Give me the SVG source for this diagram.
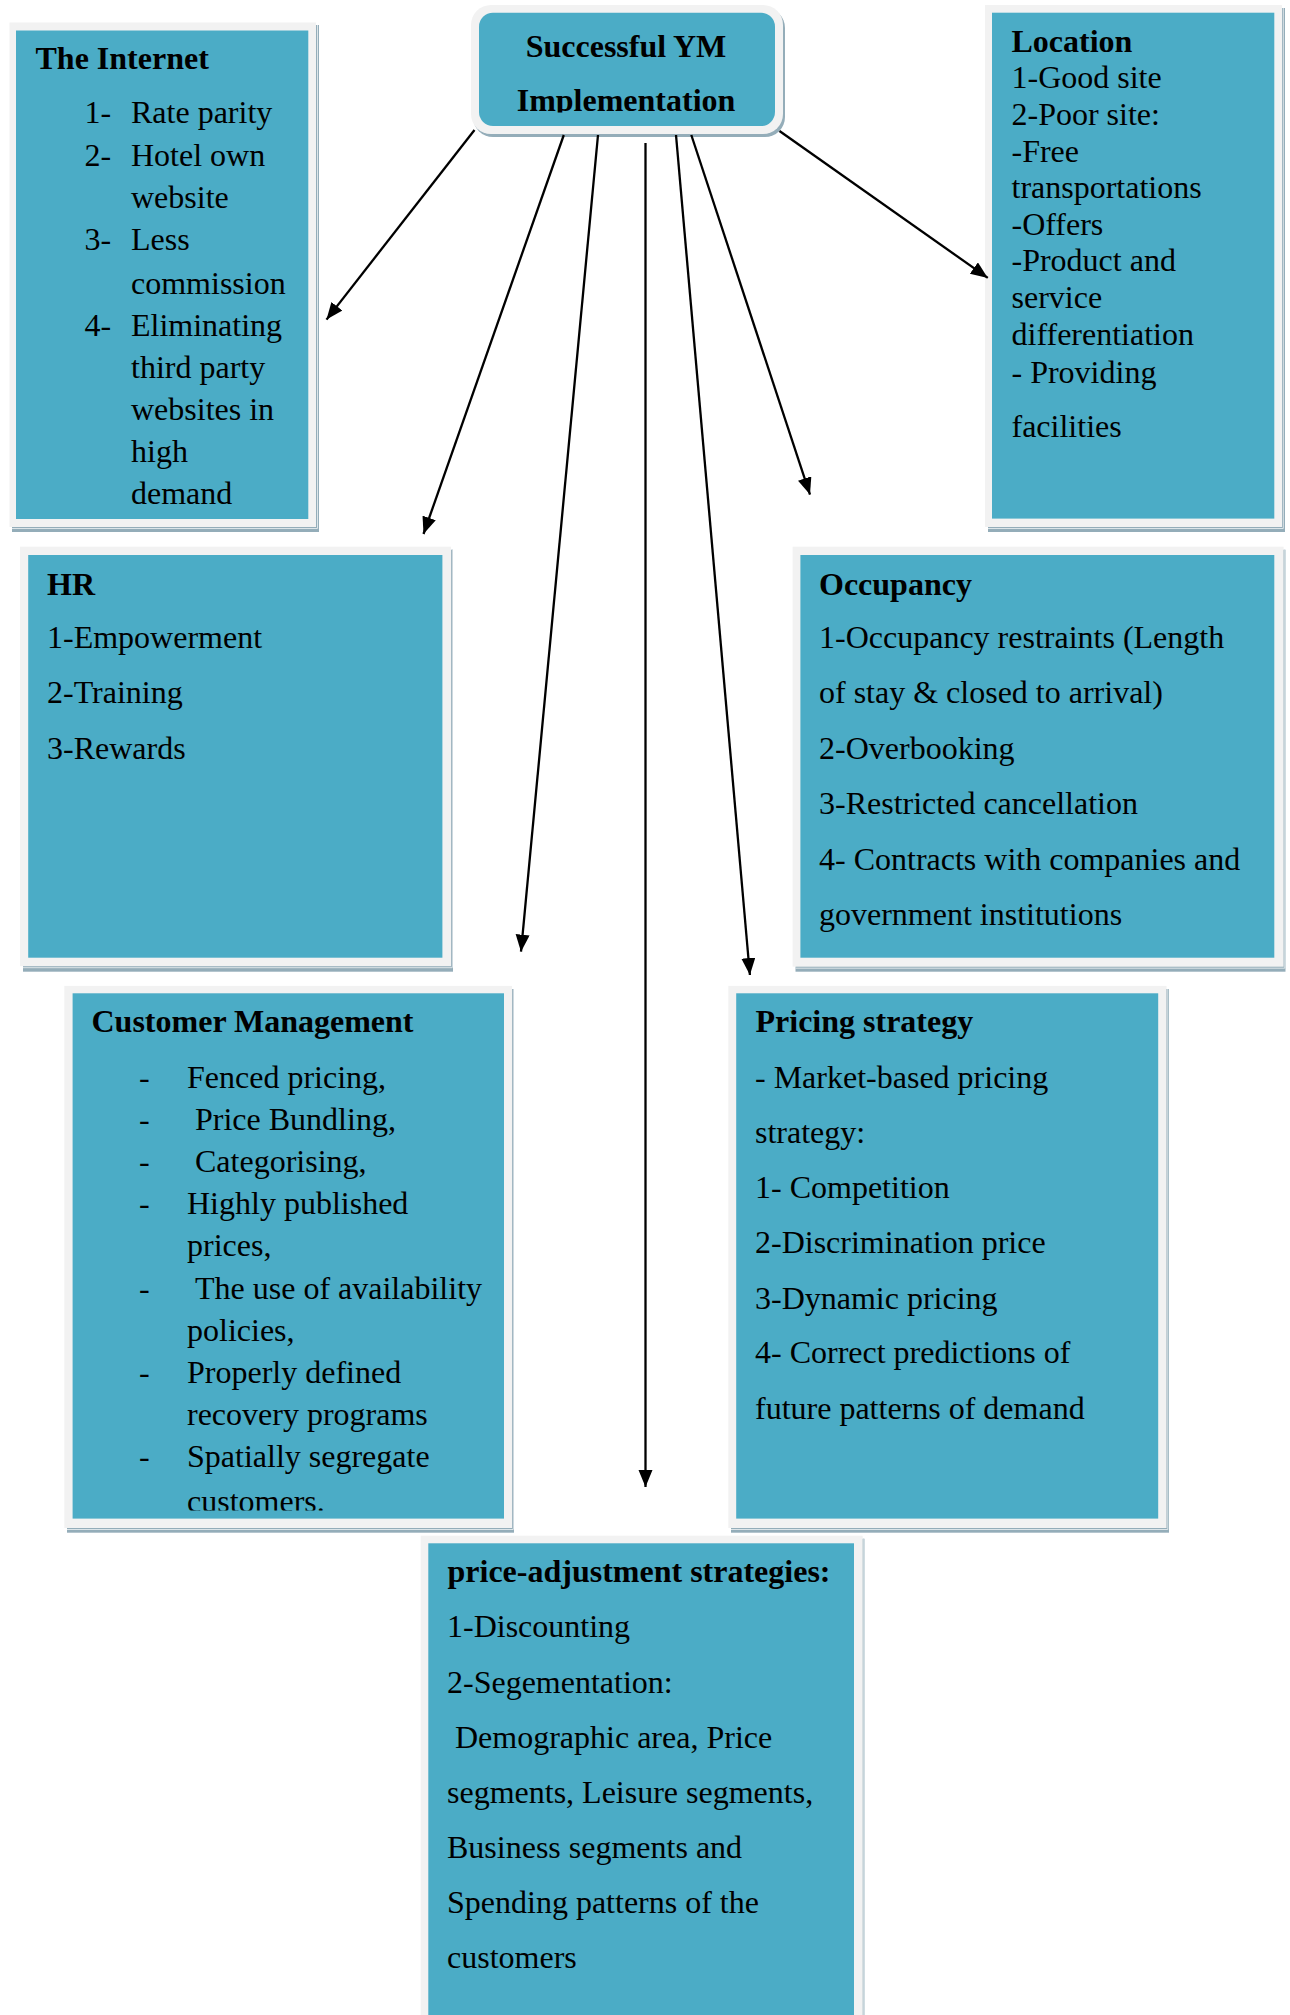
<svg xmlns="http://www.w3.org/2000/svg" width="1290" height="2015" viewBox="0 0 1290 2015">
<style>
.t{font-family:"Liberation Serif","Times New Roman",serif;font-size:32px;fill:#000}
.b{font-weight:bold}
.sh{fill:#94adb9}
.fr{fill:#f2f2f2}
.tl{fill:#4bacc6}
.hl{fill:none;stroke:#e4ebee;stroke-width:0.9}
.cn{stroke:#000;stroke-width:2.3;fill:none;marker-end:url(#ah)}
</style>
<defs>
<marker id="ah" markerUnits="userSpaceOnUse" markerWidth="18" markerHeight="15" refX="17" refY="7" orient="auto">
<path d="M0,0 L17,7 L0,14 z" fill="#000"/>
</marker>
<clipPath id="cc"><rect x="470" y="0" width="320" height="112.5"/></clipPath>
<clipPath id="cm"><rect x="60" y="980" width="460" height="530.5"/></clipPath>
</defs>
<rect width="1290" height="2015" fill="#fff"/>

<g id="center">
<rect class="sh" x="473" y="8" width="312" height="129" rx="20"/>
<rect class="fr" x="471" y="5" width="312" height="129" rx="20"/>
<rect class="tl" x="479" y="12.7" width="296" height="113.3" rx="14"/>
<g clip-path="url(#cc)">
<text class="t b" x="626" y="57" text-anchor="middle">Successful YM</text>
<text class="t b" x="626" y="110.5" text-anchor="middle">Implementation</text>
</g>
</g>

<g id="internet">
<rect class="sh" x="12" y="25" width="307" height="507"/>
<rect class="fr" x="9.5" y="22.5" width="306.5" height="504.5"/>
<polyline class="hl" points="12,528.5 317.5,528.5 317.5,25"/>
<rect class="tl" x="16" y="30.5" width="292.3" height="488.5"/>
<text class="t b" x="35.5" y="69">The Internet</text>
<text class="t" x="84.5" y="123">1-</text><text class="t" x="131" y="123">Rate parity</text>
<text class="t" x="84.5" y="166">2-</text><text class="t" x="131" y="166">Hotel own</text>
<text class="t" x="131" y="208">website</text>
<text class="t" x="84.5" y="250">3-</text><text class="t" x="131" y="250">Less</text>
<text class="t" x="131" y="293.5">commission</text>
<text class="t" x="84.5" y="335.7">4-</text><text class="t" x="131" y="335.7">Eliminating</text>
<text class="t" x="131" y="378">third party</text>
<text class="t" x="131" y="420">websites in</text>
<text class="t" x="131" y="462">high</text>
<text class="t" x="131" y="504">demand</text>
</g>

<g id="location">
<rect class="sh" x="988" y="8" width="297" height="524"/>
<rect class="fr" x="985" y="5" width="297" height="522"/>
<polyline class="hl" points="988,528.5 1283.3,528.5 1283.3,8"/>
<rect class="tl" x="992" y="12.7" width="282.3" height="505.9"/>
<text class="t b" x="1011.5" y="52">Location</text>
<text class="t" x="1011.5" y="88">1-Good site</text>
<text class="t" x="1011.5" y="125">2-Poor site:</text>
<text class="t" x="1011.5" y="161.5">-Free</text>
<text class="t" x="1011.5" y="198">transportations</text>
<text class="t" x="1011.5" y="234.6">-Offers</text>
<text class="t" x="1011.5" y="271">-Product and</text>
<text class="t" x="1011.5" y="308">service</text>
<text class="t" x="1011.5" y="345">differentiation</text>
<text class="t" x="1011.5" y="382.5">- Providing</text>
<text class="t" x="1011.5" y="436.5">facilities</text>
</g>

<g id="hr">
<rect class="sh" x="23" y="549.7" width="430" height="422"/>
<rect class="fr" x="20" y="546.7" width="431" height="419.5"/>
<polyline class="hl" points="23,967.7 452.3,967.7 452.3,550"/>
<rect class="tl" x="28.2" y="555" width="414.2" height="402.7"/>
<text class="t b" x="47" y="595">HR</text>
<text class="t" x="47" y="648.3">1-Empowerment</text>
<text class="t" x="47" y="703.3">2-Training</text>
<text class="t" x="47" y="759.3">3-Rewards</text>
</g>

<g id="occupancy">
<rect class="sh" x="795.5" y="549.7" width="490" height="422"/>
<rect class="fr" x="792.6" y="546.7" width="491" height="420"/>
<polyline class="hl" points="795.5,968.2 1284.8,968.2 1284.8,550"/>
<rect class="tl" x="800.4" y="555" width="473.9" height="402.7"/>
<text class="t b" x="819" y="595">Occupancy</text>
<text class="t" x="819" y="648.3">1-Occupancy restraints (Length</text>
<text class="t" x="819" y="703.3">of stay &amp; closed to arrival)</text>
<text class="t" x="819" y="759.3">2-Overbooking</text>
<text class="t" x="819" y="814.3">3-Restricted cancellation</text>
<text class="t" x="819" y="870">4- Contracts with companies and</text>
<text class="t" x="819" y="925">government institutions</text>
</g>

<g id="customer-management">
<rect class="sh" x="67" y="989" width="447" height="543.7"/>
<rect class="fr" x="64.3" y="985.9" width="447.7" height="542.1"/>
<polyline class="hl" points="67,1529.5 513.3,1529.5 513.3,989"/>
<rect class="tl" x="72.6" y="993.3" width="431.4" height="525.3"/>
<text class="t b" x="91.5" y="1032">Customer Management</text>
<g clip-path="url(#cm)">
<text class="t" x="139" y="1087.6">-</text><text class="t" x="187" y="1087.6">Fenced pricing,</text>
<text class="t" x="139" y="1129.8">-</text><text class="t" x="195" y="1129.8">Price Bundling,</text>
<text class="t" x="139" y="1172">-</text><text class="t" x="195" y="1172">Categorising,</text>
<text class="t" x="139" y="1214.2">-</text><text class="t" x="187" y="1214.2">Highly published</text>
<text class="t" x="187" y="1256.4">prices,</text>
<text class="t" x="139" y="1298.6">-</text><text class="t" x="195" y="1298.6">The use of availability</text>
<text class="t" x="187" y="1340.8">policies,</text>
<text class="t" x="139" y="1383">-</text><text class="t" x="187" y="1383">Properly defined</text>
<text class="t" x="187" y="1425.2">recovery programs</text>
<text class="t" x="139" y="1467.4">-</text><text class="t" x="187" y="1467.4">Spatially segregate</text>
<text class="t" x="187" y="1512">customers.</text>
</g>
</g>

<g id="pricing-strategy">
<rect class="sh" x="731" y="989" width="438" height="543.7"/>
<rect class="fr" x="728.3" y="985.9" width="438.2" height="542.1"/>
<polyline class="hl" points="731,1529.5 1167.8,1529.5 1167.8,989"/>
<rect class="tl" x="736.2" y="993.3" width="422" height="525.3"/>
<text class="t b" x="755.5" y="1032">Pricing strategy</text>
<text class="t" x="755" y="1087.6">- Market-based pricing</text>
<text class="t" x="755" y="1143">strategy:</text>
<text class="t" x="755" y="1198">1- Competition</text>
<text class="t" x="755" y="1253.4">2-Discrimination price</text>
<text class="t" x="755" y="1308.5">3-Dynamic pricing</text>
<text class="t" x="755" y="1363.3">4- Correct predictions of</text>
<text class="t" x="755" y="1418.7">future patterns of demand</text>
</g>

<g id="price-adjustment">
<rect class="sh" x="423.5" y="1538.7" width="441" height="490"/>
<rect class="fr" x="420.7" y="1535.7" width="442" height="490"/>
<polyline class="hl" points="863.8,1539 863.8,2015"/>
<rect class="tl" x="428.3" y="1543.3" width="425.7" height="480"/>
<text class="t b" x="447.5" y="1581.7">price-adjustment strategies:</text>
<text class="t" x="447" y="1636.7">1-Discounting</text>
<text class="t" x="447" y="1692.7">2-Segementation:</text>
<text class="t" x="455" y="1747.7">Demographic area, Price</text>
<text class="t" x="447" y="1802.7">segments, Leisure segments,</text>
<text class="t" x="447" y="1858.3">Business segments and</text>
<text class="t" x="447" y="1913.3">Spending patterns of the</text>
<text class="t" x="447" y="1968.3">customers</text>
</g>

<g id="connectors">
<line class="cn" x1="474.5" y1="130" x2="326.5" y2="319.6"/>
<line class="cn" x1="563.8" y1="135" x2="423.5" y2="534"/>
<line class="cn" x1="598" y1="135" x2="521" y2="951.7"/>
<line class="cn" x1="645.5" y1="143" x2="645.5" y2="1487"/>
<line class="cn" x1="676" y1="135" x2="749.9" y2="975"/>
<line class="cn" x1="691.3" y1="135" x2="810" y2="494.6"/>
<line class="cn" x1="779.5" y1="131" x2="987.8" y2="277.9"/>
</g>
</svg>
